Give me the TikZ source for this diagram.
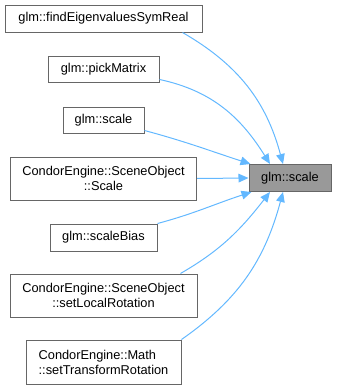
\documentclass[tikz,border=0pt]{standalone}
\usepackage{fontspec}
\setmainfont{Liberation Sans}
\usetikzlibrary{arrows.meta}

\definecolor{edgeblue}{HTML}{63B8FF}
\definecolor{boxline}{HTML}{666666}
\definecolor{curfill}{HTML}{999999}

\tikzset{
  fn/.style={draw=boxline, line width=0.75pt, fill=white, inner sep=0pt,
    font=\fontsize{9.6}{11.3}\selectfont, align=center},
  cur/.style={fn, fill=curfill},
  call/.style={draw=edgeblue, line width=0.75pt,
    -{Triangle[length=7.5pt,width=6.5pt]}},
}

\begin{document}
\begin{tikzpicture}[x=0.75pt, y=-0.75pt]
  \useasboundingbox (0,0) rectangle (336,389);

  \node (scale) [cur, minimum width=61.5pt, minimum height=20.25pt] at (290,178) {glm::scale};

  \node (eig)   [fn, minimum width=147.75pt, minimum height=20.25pt] at (103.5,18.5)  {glm::findEigenvaluesSymReal};
  \node (pick)  [fn, minimum width=83.25pt,  minimum height=19.5pt]  at (103.5,69)    {glm::pickMatrix};
  \node (gscale)[fn, minimum width=60.75pt,  minimum height=19.5pt]  at (103.5,120)   {glm::scale};
  \node (objs)  [fn, minimum width=139.5pt,  minimum height=32.25pt] at (103.5,178.5) {CondorEngine::SceneObject\\::Scale};
  \node (bias)  [fn, minimum width=80.25pt,  minimum height=20.25pt] at (103.5,237.5) {glm::scaleBias};
  \node (lrot)  [fn, minimum width=140.25pt, minimum height=32.25pt] at (103.5,295.5) {CondorEngine::SceneObject\\::setLocalRotation};
  \node (trot)  [fn, align=left, minimum width=116.25pt, minimum height=33pt] at (103.5,362) {CondorEngine::Math\\::setTransformRotation};

  \draw [call] ([xshift=-15pt]eig.south east)  to [out=-30, in=105] ([xshift=-5.25pt]scale.north);
  \draw [call] ([yshift=2.25pt]pick.south east) to [out=-12, in=122] ([xshift=-15pt]scale.north);
  \draw [call] ([yshift=2.25pt]gscale.south east) to [out=-15, in=162] ([xshift=1.5pt]scale.north west);
  \draw [call] (objs.east) to (scale.west);
  \draw [call] (bias.north east) to [out=15, in=-162] ([xshift=2.25pt]scale.south west);
  \draw [call] ([xshift=-12.75pt]lrot.north east) to [out=30, in=-128] ([xshift=-15pt]scale.south);
  \draw [call] (trot.north east) to [out=35, in=-105] ([xshift=-5.25pt]scale.south);
\end{tikzpicture}
\end{document}
